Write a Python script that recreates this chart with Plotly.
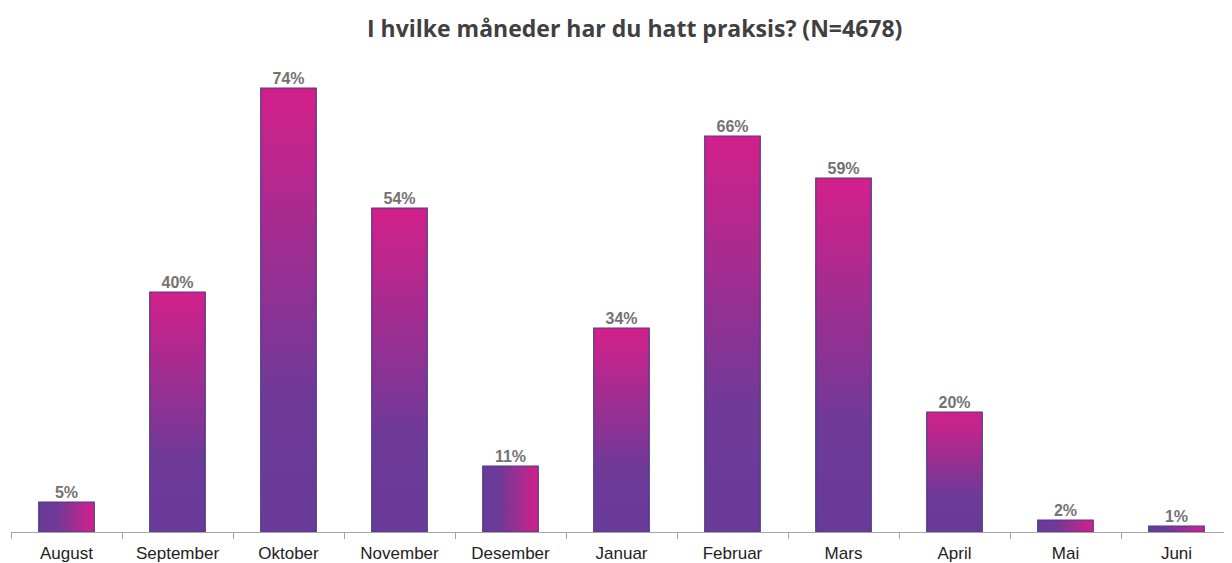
import plotly.graph_objects as go

months = ['August', 'September', 'Oktober', 'November', 'Desember', 'Januar',
          'Februar', 'Mars', 'April', 'Mai', 'Juni']
shares = [5, 40, 74, 54, 11, 34, 66, 59, 20, 2, 1]
labels = [f'<b>{v}%</b>' for v in shares]

BAR_HALF = 0.25
GRADIENT = [[0, '#693a99'], [0.3, '#6e3a98'], [1, '#d3208a']]

fig = go.Figure()

# Excel-style gradient bars: drawn as filled rectangles so each gets its own gradient
for i, v in enumerate(shares):
    xs = [i - BAR_HALF, i + BAR_HALF, i + BAR_HALF, i - BAR_HALF, i - BAR_HALF]
    ys = [0, 0, v, v, 0]
    # short bars look left-to-right in the original, tall ones bottom-to-top
    direction = 'horizontal' if v < 15 else 'vertical'
    fig.add_trace(go.Scatter(
        x=xs, y=ys, mode='lines', fill='toself',
        fillgradient=dict(type=direction, colorscale=GRADIENT),
        line=dict(color='#4b3b86', width=1.2),
        hoverinfo='skip', showlegend=False,
    ))

# value labels above the bars
fig.add_trace(go.Scatter(
    x=list(range(len(months))), y=shares, mode='text',
    text=labels, textposition='top center',
    textfont=dict(family='Arial, Liberation Sans', size=16, color='#767171'),
    hovertemplate='%{customdata}: %{y}%<extra></extra>',
    customdata=months, showlegend=False, cliponaxis=False,
))

# the page body adds an 8px offset, so the figure is 8px smaller than the window
fig.update_layout(
    width=1224, height=555,
    paper_bgcolor='white', plot_bgcolor='white',
    margin=dict(l=3, r=0, t=44, b=31),
    title=dict(
        text='<b>I hvilke måneder har du hatt praksis? (N=4678)</b>',
        x=0.512, xanchor='center', y=0.962, yanchor='middle',
        font=dict(family='Open Sans', size=23, color='#404040'),
    ),
    xaxis=dict(
        range=[-0.5, len(months) - 0.5],
        tickvals=list(range(len(months))), ticktext=months,
        ticks='', showgrid=False, zeroline=False,
        showline=True, linecolor='#a6a6a6', linewidth=1,
        ticklabelstandoff=6,
        tickfont=dict(family='Arial, Liberation Sans', size=17, color='#222222'),
        minor=dict(tick0=-0.5, dtick=1, ticks='outside', ticklen=6,
                   tickcolor='#a6a6a6', showgrid=False),
        fixedrange=True,
    ),
    yaxis=dict(range=[0, 80], visible=False, showgrid=False, zeroline=False),
)

fig.write_html('out.html')
